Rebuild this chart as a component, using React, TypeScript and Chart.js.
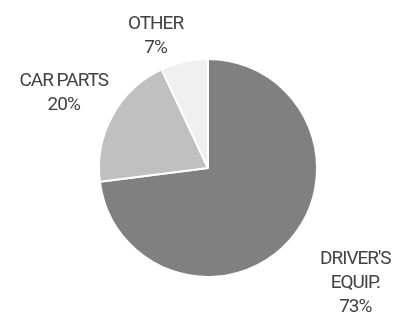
import React, { useEffect, useRef } from "react";
import { Chart, registerables } from "chart.js";

Chart.register(...registerables);

const categories = ["DRIVER'S EQUIP.", "CAR PARTS", "OTHER"];
const categoryLines = [["DRIVER'S", "EQUIP."], ["CAR PARTS"], ["OTHER"]];
const values = [73, 20, 7];
const colors = ["#808080", "#c0c0c0", "#efefef"];

const FONT = "19px Roboto";
const LETTER_SPACING = "-1px";
const LINE_H = 24;
const TEXT_SHIFT_Y = 4;
const TEXT_COLOR = "#424242";

const outsideLabels = {
  id: "outsideLabels",
  afterDraw(chart: any) {
    const ctx = chart.ctx as CanvasRenderingContext2D;
    const meta = chart.getDatasetMeta(0);
    const data = chart.data.datasets[0].data as number[];
    const total = data.reduce((a, b) => a + b, 0);
    ctx.save();
    ctx.font = FONT;
    (ctx as any).letterSpacing = LETTER_SPACING;
    ctx.fillStyle = TEXT_COLOR;
    ctx.textAlign = "center";
    ctx.textBaseline = "middle";
    meta.data.forEach((arc: any, i: number) => {
      const p = arc.getProps(["x", "y", "startAngle", "endAngle", "outerRadius"], true);
      const mid = (p.startAngle + p.endAngle) / 2;
      const dx = Math.cos(mid);
      const dy = Math.sin(mid);
      const R = p.outerRadius + 5;
      const ax = p.x + dx * R;
      const ay = p.y + dy * R;
      const pct = Math.round((data[i] / total) * 100) + "%";
      const lines = [...categoryLines[i], pct];
      const w = Math.max(ctx.measureText(categories[i]).width, ctx.measureText(pct).width);
      const h = lines.length * LINE_H;
      const cx = ax + Math.sign(dx) * (w / 2);
      const cy = ay + Math.sign(dy) * (h / 2) + TEXT_SHIFT_Y;
      const top = cy - h / 2;
      lines.forEach((ln, j) => {
        ctx.fillText(ln, cx, top + LINE_H / 2 + j * LINE_H);
      });
    });
    ctx.restore();
  },
};

export default function App() {
  const ref = useRef<HTMLCanvasElement | null>(null);
  useEffect(() => {
    if (!ref.current) return;
    const chart = new Chart(ref.current, {
      type: "pie",
      data: {
        labels: categories,
        datasets: [
          {
            data: values,
            backgroundColor: colors,
            borderColor: "#ffffff",
            borderWidth: 2,
          },
        ],
      },
      options: {
        responsive: false,
        animation: false,
        layout: { padding: { left: 98, right: 77, top: 58, bottom: 35 } },
        plugins: {
          legend: { display: false },
          tooltip: { enabled: false },
        },
      },
      plugins: [outsideLabels],
    });
    return () => chart.destroy();
  }, []);
  return (
    <div style={{ position: "fixed", left: 0, top: 0, width: 395, height: 313, background: "#fff" }}>
      <canvas ref={ref} width={395} height={313} />
    </div>
  );
}
